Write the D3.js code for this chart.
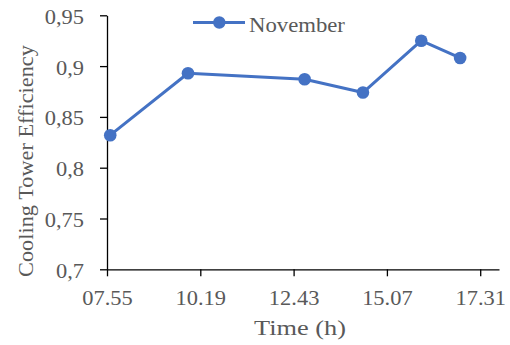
<!DOCTYPE html>
<html>
<head>
<meta charset="utf-8">
<script src="https://cdn.jsdelivr.net/npm/d3@7"></script>
<style>
  html, body { margin: 0; padding: 0; background: #fff; }
  svg { display: block; }
</style>
</head>
<body>
<svg id="chart" width="510" height="345"></svg>
<script>
// ---- data ----
const seriesName = "November";
const times = ["08:00", "10:00", "13:00", "14:30", "16:00", "17:00"];
const efficiency = [0.832, 0.893, 0.887, 0.874, 0.925, 0.908];
const xTickTimes = ["07:55", "10:19", "12:43", "15:07", "17:31"];
const xTickLabels = ["07.55", "10.19", "12.43", "15.07", "17.31"];
const yTickValues = [0.7, 0.75, 0.8, 0.85, 0.9, 0.95];
const yTickLabels = ["0,7", "0,75", "0,8", "0,85", "0,9", "0,95"];
const xDomain = ["07:55", "18:00"];
const yDomain = [0.7, 0.95];
const xTitle = "Time (h)";
const yTitle = "Cooling Tower Efficiency";

// ---- layout ----
const FONT = "'Liberation Serif'";
const TEXT = "#595959";
const parse = d3.timeParse("%H:%M");
const color = "#4472C4";
const svg = d3.select("#chart");

const x = d3.scaleTime().domain(xDomain.map(parse)).range([107, 499]);
const y = d3.scaleLinear().domain(yDomain).range([269.3, 15.3]);

const data = times.map((t, i) => ({ t: parse(t), v: efficiency[i] }));

// place a text at (px,py) with optional rotation, stretched horizontally to a target width
function placeText(sel, px, py, target, rot) {
  const w = sel.node().getComputedTextLength();
  const s = target ? target / w : 1;
  sel.attr("x", 0).attr("y", 0)
    .attr("transform", `translate(${px},${py})${rot ? ` rotate(${rot})` : ""} scale(${s},1)`);
}

// y axis
const yAxis = svg.append("g")
  .attr("transform", "translate(107,0)")
  .call(d3.axisLeft(y)
    .tickValues(yTickValues)
    .tickFormat((d, i) => yTickLabels[i])
    .tickSize(7).tickSizeOuter(0).tickPadding(16));
yAxis.attr("font-family", null).attr("font-size", null);

// x axis
const xAxis = svg.append("g")
  .attr("transform", "translate(0,269.3)")
  .call(d3.axisBottom(x)
    .tickValues(xTickTimes.map(parse))
    .tickFormat((d, i) => xTickLabels[i])
    .tickSize(7).tickSizeOuter(0));
xAxis.attr("font-family", null).attr("font-size", null);

svg.selectAll(".tick text")
  .attr("dy", null)
  .style("font-family", FONT).style("font-size", "21px").attr("fill", TEXT);
yAxis.selectAll(".tick text").each(function () {
  const t = d3.select(this);
  t.attr("x", 0).attr("y", 0).attr("transform", "translate(-23,8) scale(1.07,1)");
});
xAxis.selectAll(".tick text").each(function () {
  const t = d3.select(this);
  t.attr("x", 0).attr("y", 0).attr("transform", "translate(0,36) scale(1.07,1)");
});

svg.selectAll(".domain, .tick line").attr("stroke", "#000").attr("stroke-width", 1.3);

// line
svg.append("path")
  .datum(data)
  .attr("fill", "none")
  .attr("stroke", color)
  .attr("stroke-width", 3)
  .attr("stroke-linejoin", "round")
  .attr("d", d3.line().x(d => x(d.t)).y(d => y(d.v)));

svg.selectAll("circle.pt")
  .data(data)
  .join("circle")
  .attr("class", "pt")
  .attr("cx", d => x(d.t))
  .attr("cy", d => y(d.v))
  .attr("r", 6.3)
  .attr("fill", color);

// legend
const lg = svg.append("g");
lg.append("line").attr("x1", 193).attr("x2", 245).attr("y1", 22.5).attr("y2", 22.5)
  .attr("stroke", color).attr("stroke-width", 3);
lg.append("circle").attr("cx", 219.3).attr("cy", 22.5).attr("r", 6.2).attr("fill", color);
const lt = lg.append("text")
  .style("font-family", FONT).style("font-size", "21px").attr("fill", TEXT)
  .text(seriesName);
placeText(lt, 249, 32, 96);

// titles
const xt = svg.append("text")
  .attr("text-anchor", "middle")
  .style("font-family", FONT).style("font-size", "21.5px").attr("fill", TEXT)
  .text(xTitle);
placeText(xt, 300, 335, 92);

const yt = svg.append("text")
  .attr("text-anchor", "middle")
  .style("font-family", FONT).style("font-size", "21.5px").attr("fill", TEXT)
  .text(yTitle);
placeText(yt, 33, 161, 232, -90);
</script>
</body>
</html>
